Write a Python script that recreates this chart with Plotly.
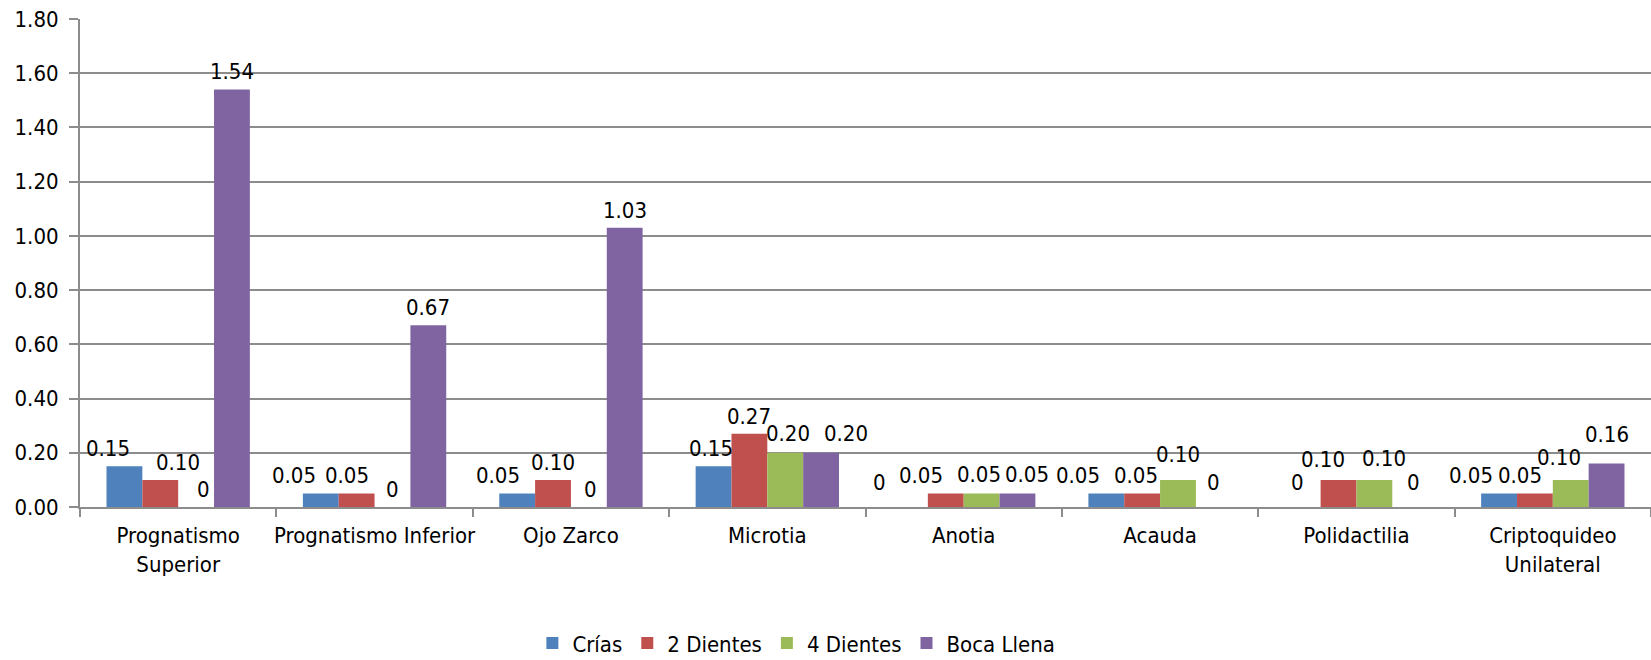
import plotly.graph_objects as go

categories = ["Prognatismo<br>Superior", "Prognatismo Inferior", "Ojo Zarco", "Microtia",
              "Anotia", "Acauda", "Polidactilia", "Criptoquideo<br>Unilateral"]
crias = [0.15, 0.05, 0.05, 0.15, 0, 0.05, 0, 0.05]
dientes2 = [0.10, 0.05, 0.10, 0.27, 0.05, 0.05, 0.10, 0.05]
dientes4 = [0, 0, 0, 0.20, 0.05, 0.10, 0.10, 0.10]
boca_llena = [1.54, 0.67, 1.03, 0.20, 0.05, 0, 0, 0.16]
series_names = ["Crías", "2 Dientes", "4 Dientes", "Boca Llena"]
colors = ["#4F81BD", "#C0504D", "#9BBB59", "#8064A2"]
y_ticks = [0, 0.2, 0.4, 0.6, 0.8, 1.0, 1.2, 1.4, 1.6, 1.8]

# label nudges (pixels) as placed in the original chart
label_dx = [
    [-16, -27, -19, -3, -30, -28, -5, -28],
    [18, -10, 0, 0, -25, -6, -16, -15],
    [7, 0, 2, 3, -3, 0, 10, -12],
    [0, 0, 0, 25, 10, 0, 3, 0],
]
label_dy = [
    [0, 0, 0, 0, 7, 0, 7, 0],
    [0, 0, 0, 0, 0, 0, 3, 0],
    [0, 0, 0, 2, 1, 8, 4, 5],
    [0, 0, 0, 2, 1, 7, 7, 12],
]
BASE_DY = 4

FONT = "DejaVu Sans Condensed, Liberation Sans Narrow, Arial Narrow, sans-serif"
FS = 22
BARGAP = 0.27


def fmt(v):
    return "0" if v == 0 else f"{v:.2f}"


fig = go.Figure()
all_series = [crias, dientes2, dientes4, boca_llena]
n = len(all_series)
bw = (1 - BARGAP) / n
for s, (name, vals, col) in enumerate(zip(series_names, all_series, colors)):
    fig.add_trace(go.Bar(
        name=name, x=categories, y=vals, marker_color=col, marker_line_width=0,
    ))
    off = (s - (n - 1) / 2) * bw
    for i, v in enumerate(vals):
        fig.add_annotation(
            x=i + off, y=v, xref="x", yref="y", text=fmt(v), showarrow=False,
            yanchor="bottom", xanchor="center", xshift=label_dx[s][i],
            yshift=BASE_DY + label_dy[s][i],
            font=dict(family=FONT, size=FS, color="#000000"), borderpad=0,
        )

fig.update_layout(
    width=1651, height=660,
    margin=dict(l=80, r=0, t=19, b=153, autoexpand=False),
    paper_bgcolor="white", plot_bgcolor="white",
    barmode="group", bargap=BARGAP, bargroupgap=0,
    font=dict(family=FONT, size=FS, color="#000000"),
    showlegend=True,
    legend=dict(orientation="h", x=0.456, xanchor="center", y=-0.279, yanchor="middle",
                font=dict(family=FONT, size=FS), traceorder="normal"),
    xaxis=dict(showline=True, linecolor="#8C8C8C", linewidth=2, tickson="boundaries",
               ticks="outside", ticklen=8, tickcolor="#8C8C8C", tickwidth=2, tickangle=0,
               showgrid=False, automargin=False, ticklabelstandoff=8,
               tickfont=dict(family=FONT, size=FS)),
    yaxis=dict(range=[0, 1.8], tickvals=y_ticks, tickformat=".2f", showline=True,
               linecolor="#8C8C8C", linewidth=2, ticks="outside", ticklen=9,
               tickcolor="#8C8C8C", tickwidth=2, showgrid=True, gridcolor="#8C8C8C",
               gridwidth=2, zeroline=False, ticklabelstandoff=6, automargin=False,
               tickfont=dict(family=FONT, size=FS)),
)

fig.write_html("out.html", config={"displayModeBar": False},
               post_script="document.body.style.margin='0';document.body.style.overflow='hidden';")
